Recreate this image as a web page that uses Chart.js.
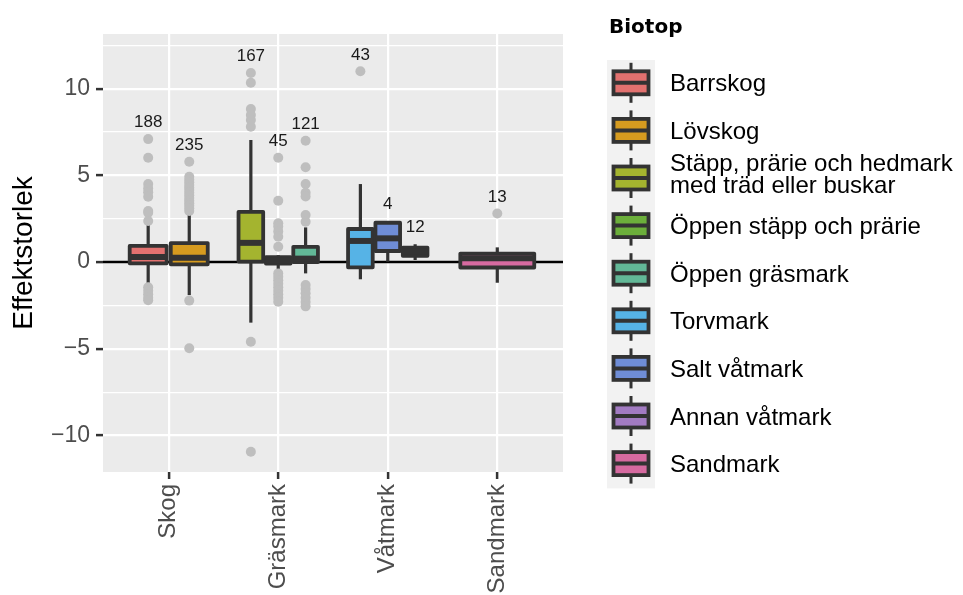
<!DOCTYPE html>
<html>
<head>
<meta charset="utf-8">
<script src="https://cdn.jsdelivr.net/npm/chart.js@4/dist/chart.umd.min.js"></script>
<style>
html,body{margin:0;padding:0;background:#fff;}
#wrap{width:963px;height:595px;position:relative;}
</style>
</head>
<body>
<div id="wrap"><canvas id="c" width="963" height="595"></canvas></div>
<script>
// ---------- data ----------
const categories = ['Skog', 'Gräsmark', 'Våtmark', 'Sandmark'];
const biotopes = ['Barrskog', 'Lövskog', 'Stäpp, prärie och hedmark\nmed träd eller buskar',
  'Öppen stäpp och prärie', 'Öppen gräsmark', 'Torvmark', 'Salt våtmark', 'Annan våtmark', 'Sandmark'];
const biotopeCategory = ['Skog', 'Skog', 'Gräsmark', 'Gräsmark', 'Gräsmark', 'Våtmark', 'Våtmark', 'Våtmark', 'Sandmark'];
const biotopeColors = ['#E2716F', '#D69B1F', '#A4B42F', '#6CAF3B', '#62B897', '#56B3E6', '#6F8DD6', '#A27BC2', '#D66AA0'];
const counts      = [188, 235, 167, 45, 121, 43, 4, 12, 13];
const whiskerLow  = [-1.2, -1.9, -3.49, -0.46, -0.65, -0.99, 0.02, 0.12, -1.19];
const q1          = [-0.07, -0.13, 0.03, -0.08, 0.0, -0.3, 0.64, 0.36, -0.31];
const median      = [0.29, 0.25, 1.11, 0.08, 0.2, 1.22, 1.37, 0.6, 0.22];
const q3          = [0.93, 1.1, 2.9, 0.28, 0.88, 1.91, 2.27, 0.84, 0.49];
const whiskerHigh = [2.18, 2.77, 7.04, 0.4, 2.0, 4.5, 2.37, 1.03, 0.85];
const outBarrskog    = [7.09, 6.02, 4.5, 4.25, 4.02, 3.77, 2.95, 2.85, 2.37, -1.45, -1.65, -1.85, -2.05, -2.2];
const outLovskog     = [5.79, 4.92, 4.75, 4.6, 4.45, 4.3, 4.15, 4.0, 3.85, 3.7, 3.55, 3.4, 3.25, 3.1, 2.95, -2.22, -4.97];
const outStapp       = [10.9, 10.34, 8.82, 8.48, 8.19, 7.8, -4.59, -10.93];
const outOppenStapp  = [6.02, 3.54, 2.24, 2.05, 1.77, 1.46, 0.89, -0.65, -0.85, -1.05, -1.25, -1.45, -1.65, -1.85, -2.05, -2.28];
const outOppenGras   = [7.0, 5.47, 4.5, 4.0, 3.78, 2.72, 2.33, -1.32, -1.55, -1.8, -2.05, -2.3, -2.55];
const outTorvmark    = [11.0];
const outSalt        = [];
const outAnnan       = [];
const outSandmark    = [2.8];
const yMajorTicks = [-10, -5, 0, 5, 10];
const yMinorTicks = [-7.5, -2.5, 2.5, 7.5, 12.5];
const yTitle = 'Effektstorlek';
const legendTitle = 'Biotop';

const outliers = [outBarrskog, outLovskog, outStapp, outOppenStapp, outOppenGras, outTorvmark, outSalt, outAnnan, outSandmark];

// ---------- dodge layout (like ggplot position_dodge2) ----------
const dodgeWidth = 0.75, boxFraction = 0.9;
function groupPosition(i) {
  const cat = biotopeCategory[i];
  const members = biotopes.map((_, j) => j).filter(j => biotopeCategory[j] === cat);
  const n = members.length, k = members.indexOf(i);
  const slot = dodgeWidth / n;
  const center = categories.indexOf(cat) + 1 - dodgeWidth / 2 + slot * (k + 0.5);
  return { center, half: slot * boxFraction / 2 };
}

const outlierPoints = [];
outliers.forEach((arr, i) => {
  const { center } = groupPosition(i);
  arr.forEach(v => outlierPoints.push({ x: center, y: v }));
});

const FONT = "'Liberation Sans', Arial, sans-serif";
Chart.defaults.font.family = FONT;

const fmt = v => (v < 0 ? '\u2212' + Math.abs(v) : String(v));

const boxPlugin = {
  id: 'boxes',
  beforeDraw(chart) {
    const { ctx, chartArea: a } = chart;
    ctx.save();
    ctx.fillStyle = '#EBEBEB';
    ctx.fillRect(a.left, a.top, a.right - a.left, a.bottom - a.top);
    ctx.restore();
  },
  beforeDatasetsDraw(chart) {
    const { ctx, chartArea: a, scales: { x, y } } = chart;
    ctx.save();
    const y0 = y.getPixelForValue(0);
    ctx.strokeStyle = '#000';
    ctx.lineWidth = 2.5;
    ctx.beginPath(); ctx.moveTo(a.left, y0); ctx.lineTo(a.right, y0); ctx.stroke();
    const line = (x1, y1, x2, y2) => { ctx.beginPath(); ctx.moveTo(x1, y1); ctx.lineTo(x2, y2); ctx.stroke(); };
    biotopes.forEach((b, i) => {
      const { center, half } = groupPosition(i);
      const cx = x.getPixelForValue(center);
      const xl = x.getPixelForValue(center - half), xr = x.getPixelForValue(center + half);
      const yq1 = y.getPixelForValue(q1[i]), yq3 = y.getPixelForValue(q3[i]);
      ctx.strokeStyle = '#333333';
      ctx.lineCap = 'butt';
      ctx.lineWidth = 3.2;
      line(cx, yq3, cx, y.getPixelForValue(whiskerHigh[i]));
      line(cx, yq1, cx, y.getPixelForValue(whiskerLow[i]));
      ctx.fillStyle = biotopeColors[i];
      ctx.fillRect(xl, yq3, xr - xl, yq1 - yq3);
      ctx.lineWidth = 3.8;
      ctx.lineJoin = 'round';
      ctx.strokeRect(xl, yq3, xr - xl, yq1 - yq3);
      ctx.lineWidth = 6;
      const ym = y.getPixelForValue(median[i]);
      line(xl, ym, xr, ym);
    });
    ctx.restore();
  },
  afterDatasetsDraw(chart) {
    const { ctx, scales: { x, y } } = chart;
    ctx.save();
    ctx.fillStyle = '#1a1a1a';
    ctx.font = '17px ' + FONT;
    ctx.textAlign = 'center';
    ctx.textBaseline = 'middle';
    biotopes.forEach((b, i) => {
      const { center } = groupPosition(i);
      const top = Math.max(whiskerHigh[i], ...outliers[i]);
      ctx.fillText(String(counts[i]), x.getPixelForValue(center), y.getPixelForValue(top + 0.95));
    });
    ctx.restore();
  },
  afterDraw(chart) {
    const { ctx, chartArea: a } = chart;
    ctx.save();
    const keyLeft = a.right + 44, keyW = 48, keyTop = 60, rowH = 47.6;
    ctx.fillStyle = '#000';
    ctx.font = "bold 20px 'DejaVu Sans', sans-serif";
    ctx.textAlign = 'left';
    ctx.textBaseline = 'alphabetic';
    ctx.fillText(legendTitle, keyLeft + 2, 33);
    ctx.fillStyle = '#F2F2F2';
    ctx.fillRect(keyLeft, keyTop, keyW, rowH * biotopes.length);
    biotopes.forEach((b, i) => {
      const cy = keyTop + rowH * (i + 0.5) - 1;
      const cx = keyLeft + keyW / 2;
      ctx.strokeStyle = '#333333';
      ctx.lineWidth = 3;
      ctx.beginPath(); ctx.moveTo(cx, cy - 20); ctx.lineTo(cx, cy + 20); ctx.stroke();
      ctx.fillStyle = biotopeColors[i];
      ctx.fillRect(cx - 17.5, cy - 11.5, 35, 23);
      ctx.lineWidth = 3.8;
      ctx.strokeRect(cx - 17.5, cy - 11.5, 35, 23);
      ctx.lineWidth = 4;
      ctx.beginPath(); ctx.moveTo(cx - 17.5, cy); ctx.lineTo(cx + 17.5, cy); ctx.stroke();
      ctx.fillStyle = '#000';
      ctx.font = '24px ' + FONT;
      ctx.textBaseline = 'middle';
      const lines = b.split('\n');
      if (lines.length === 1) {
        ctx.fillText(lines[0], keyLeft + 63, cy + 2);
      } else {
        ctx.fillText(lines[0], keyLeft + 63, cy - 14);
        ctx.fillText(lines[1], keyLeft + 63, cy + 8);
      }
    });
    ctx.restore();
  }
};

new Chart(document.getElementById('c'), {
  type: 'scatter',
  data: {
    datasets: [{
      label: 'outliers',
      data: outlierPoints,
      backgroundColor: '#BEBEBE',
      borderWidth: 0,
      pointRadius: 5,
      pointHoverRadius: 5
    }]
  },
  options: {
    responsive: false,
    animation: false,
    devicePixelRatio: 1,
    layout: { padding: { top: 34, right: 400, left: 0, bottom: 0 } },
    plugins: { legend: { display: false }, tooltip: { enabled: false } },
    events: [],
    scales: {
      x: {
        type: 'linear',
        min: 0.4, max: 4.6,
        afterBuildTicks: s => { s.ticks = categories.map((c, i) => ({ value: i + 1 })); },
        afterFit: s => { s.height = 123; },
        border: { display: false },
        grid: { color: '#FFFFFF', lineWidth: 2.2, tickColor: '#333333', tickLength: 7, tickWidth: 2.5 },
        ticks: {
          callback: v => categories[v - 1],
          minRotation: 90, maxRotation: 90,
          autoSkip: false,
          color: '#4D4D4D',
          font: { size: 24 },
          padding: 5
        }
      },
      y: {
        type: 'linear',
        min: -12.1, max: 13.15,
        afterBuildTicks: s => { s.ticks = [...yMajorTicks, ...yMinorTicks].sort((p, q) => p - q).map(v => ({ value: v })); },
        afterFit: s => { s.width = 103; },
        border: { display: false },
        grid: {
          color: '#FFFFFF',
          lineWidth: c => (yMajorTicks.includes(c.tick && c.tick.value) ? 2.2 : 1.2),
          tickColor: c => (yMajorTicks.includes(c.tick && c.tick.value) ? '#333333' : 'rgba(0,0,0,0)'),
          tickLength: 7,
          tickWidth: 2.5
        },
        ticks: {
          callback: v => (yMajorTicks.includes(v) ? fmt(v) : ''),
          color: '#4D4D4D',
          font: { size: 23 },
          padding: 6,
          autoSkip: false
        },
        title: { display: true, text: yTitle, color: '#000', font: { size: 28 }, padding: { top: 7, bottom: 0 } }
      }
    }
  },
  plugins: [boxPlugin]
});
</script>
</body>
</html>
